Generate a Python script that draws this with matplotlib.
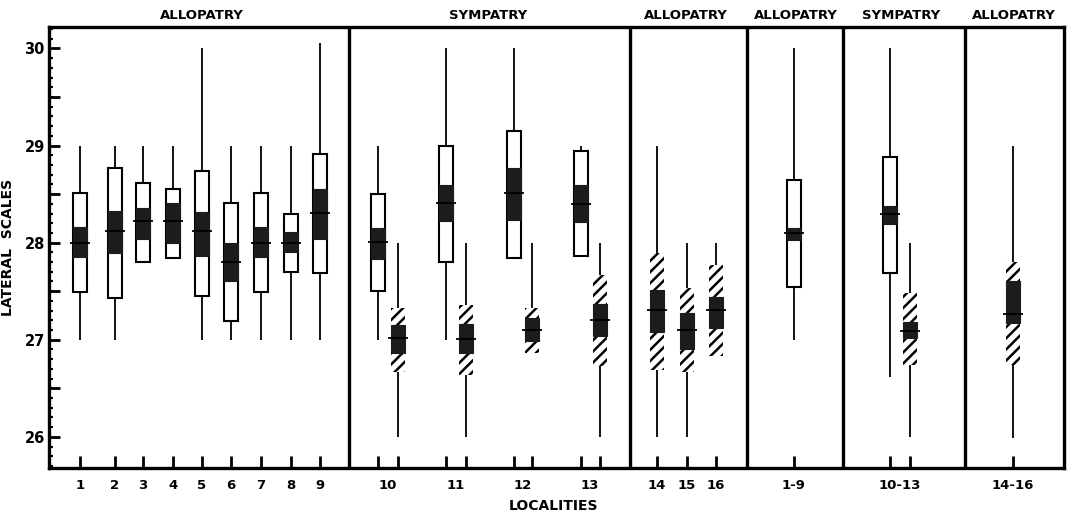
import matplotlib
matplotlib.use("Agg")
import matplotlib.pyplot as plt
from matplotlib.patches import Rectangle
from matplotlib.transforms import blended_transform_factory

plt.rcParams['font.family'] = ['DejaVu Sans']
plt.rcParams['hatch.linewidth'] = 1.8

# ---- open (white) samples ----
open_loc = ['1', '2', '3', '4', '5', '6', '7', '8', '9', '10', '11', '12', '13', '1-9', '10-13']
open_min = [27.0, 27.0, 27.80, 27.84, 27.0, 27.0, 27.0, 27.0, 27.0, 27.0, 27.0, 27.84, 27.86, 27.0, 26.62]
open_max = [29.0, 29.0, 29.0, 29.0, 30.0, 29.0, 29.0, 29.0, 30.06, 29.0, 30.0, 30.0, 29.0, 30.0, 30.0]
open_box_lo = [27.49, 27.43, 27.80, 27.84, 27.45, 27.19, 27.49, 27.70, 27.69, 27.50, 27.80, 27.84, 27.86, 27.54, 27.69]
open_box_hi = [28.51, 28.77, 28.61, 28.55, 28.74, 28.41, 28.51, 28.30, 28.91, 28.50, 29.00, 29.15, 28.94, 28.64, 28.88]
open_se_lo = [27.85, 27.89, 28.04, 28.00, 27.86, 27.60, 27.85, 27.90, 28.04, 27.83, 28.22, 28.23, 28.21, 28.03, 28.19]
open_se_hi = [28.16, 28.33, 28.36, 28.41, 28.32, 28.00, 28.16, 28.11, 28.55, 28.15, 28.59, 28.77, 28.59, 28.15, 28.38]
open_mean = [28.00, 28.12, 28.22, 28.22, 28.12, 27.80, 28.00, 28.00, 28.31, 28.01, 28.41, 28.51, 28.40, 28.10, 28.29]

# ---- hatched samples ----
hatch_loc = ['10', '11', '12', '13', '14', '15', '16', '10-13', '14-16']
hatch_min = [26.0, 26.0, 26.86, 26.0, 26.0, 26.0, 26.83, 26.0, 25.99]
hatch_max = [28.0, 28.0, 28.0, 28.0, 29.0, 28.0, 28.0, 28.0, 29.0]
hatch_box_lo = [26.67, 26.64, 26.86, 26.73, 26.69, 26.67, 26.83, 26.74, 26.74]
hatch_box_hi = [27.33, 27.36, 27.33, 27.67, 27.89, 27.53, 27.77, 27.48, 27.80]
hatch_se_lo = [26.86, 26.86, 26.99, 27.04, 27.08, 26.91, 27.12, 27.02, 27.17]
hatch_se_hi = [27.15, 27.16, 27.22, 27.37, 27.51, 27.28, 27.44, 27.18, 27.60]
hatch_mean = [27.02, 27.01, 27.10, 27.20, 27.31, 27.10, 27.31, 27.09, 27.27]

# ---- layout (horizontal positions in axis units) ----
open_pos = [80, 115, 143, 173, 202, 231, 261, 291, 320, 378, 446, 514, 581, 794, 890]
hatch_pos = [398, 466, 532, 600, 657, 687, 716, 910, 1013]
label_text = ['1', '2', '3', '4', '5', '6', '7', '8', '9', '10', '11', '12', '13',
              '14', '15', '16', '1-9', '10-13', '14-16']
label_pos = [80, 115, 143, 173, 202, 231, 261, 291, 320, 388, 456, 523, 590,
             657, 687, 716, 794, 900, 1013]
separators = [349, 630, 747, 843, 965]
group_titles = ['ALLOPATRY', 'SYMPATRY', 'ALLOPATRY', 'ALLOPATRY', 'SYMPATRY', 'ALLOPATRY']
group_title_pos = [202, 488, 686, 796, 901, 1014]

W, H = 1069, 511
fig = plt.figure(figsize=(W / 100, H / 100), dpi=100)
ax = fig.add_axes([49 / W, (H - 468) / H, (1064 - 49) / W, (468 - 27) / H])
ax.set_xlim(49, 1064)
ax.set_ylim(25.68, 30.22)

bw = 14
black = '#1c1c1c'

def draw(pos, vmin, vmax, blo, bhi, slo, shi, mean, hatched):
    for x, a, b, c, d, e, f, m in zip(pos, vmin, vmax, blo, bhi, slo, shi, mean):
        ax.vlines(x, a, b, color='black', lw=1.3, zorder=2)
        if hatched:
            ax.add_patch(Rectangle((x - bw / 2, c), bw, d - c, facecolor='white',
                                   edgecolor='black', hatch='///', lw=0, zorder=3))
        else:
            ax.add_patch(Rectangle((x - bw / 2, c), bw, d - c, facecolor='white',
                                   edgecolor='black', lw=1.5, zorder=3))
        ax.add_patch(Rectangle((x - bw / 2, e), bw, f - e, facecolor=black,
                               edgecolor=black, lw=0.8, zorder=4))
        ax.hlines(m, x - bw / 2 - 3, x + bw / 2 + 3, color='black', lw=1.3, zorder=5)

draw(open_pos, open_min, open_max, open_box_lo, open_box_hi, open_se_lo, open_se_hi, open_mean, False)
draw(hatch_pos, hatch_min, hatch_max, hatch_box_lo, hatch_box_hi, hatch_se_lo, hatch_se_hi, hatch_mean, True)

for s in separators:
    ax.axvline(s, color='black', lw=2.4, zorder=6)

for sp in ax.spines.values():
    sp.set_linewidth(2.4)

# y ticks
ax.set_yticks([26, 27, 28, 29, 30])
ax.set_yticklabels(['26', '27', '28', '29', '30'], fontsize=10.5, fontweight='bold')
ax.set_yticks([v / 10 for v in range(257, 303)], minor=True)
ax.tick_params(axis='y', which='major', direction='in', length=8, width=2, pad=3)
ax.tick_params(axis='y', which='minor', direction='in', length=3, width=1.5)
sec = ax.secondary_yaxis('left')
sec.set_yticks([26.5, 27.5, 28.5, 29.5])
sec.set_yticklabels([])
sec.tick_params(direction='in', length=8, width=2)
sec.spines['left'].set_visible(False)

# x ticks
ax.xaxis.remove_overlapping_locs = False
ax.set_xticks(open_pos + hatch_pos)
ax.set_xticklabels([])
ax.tick_params(axis='x', which='major', direction='in', length=9, width=2)
ax.set_xticks(label_pos, label_text, minor=True)
ax.tick_params(axis='x', which='minor', length=0, pad=8)
for t in ax.get_xticklabels(minor=True):
    t.set_fontsize(9.5)
    t.set_fontweight('bold')

ax.set_ylabel('LATERAL  SCALES', fontsize=10, fontweight='bold')
ax.yaxis.set_label_coords((15 - 49) / (1064 - 49), 0.5)
ax.set_xlabel('LOCALITIES', fontsize=10, fontweight='bold')
ax.xaxis.set_label_coords((553 - 49) / (1064 - 49), -0.07)

tr = blended_transform_factory(ax.transData, fig.transFigure)
for t, p in zip(group_titles, group_title_pos):
    ax.text(p, 1 - 15 / H, t, transform=tr, ha='center', va='center',
            fontsize=9.5, fontweight='bold')

fig.savefig('out.png', dpi=100)
